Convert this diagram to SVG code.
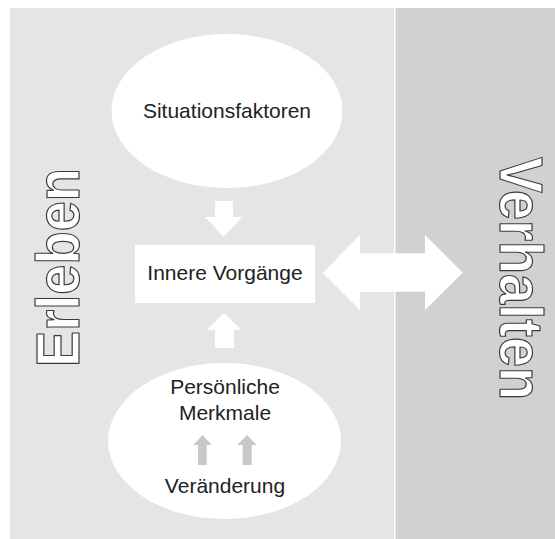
<svg xmlns="http://www.w3.org/2000/svg" width="555" height="539" viewBox="0 0 555 539">
<style>
.lbl{font-family:"Liberation Sans",Arial,sans-serif;font-size:21px;fill:#222;text-anchor:middle}
.big{font-family:"Liberation Sans",Arial,sans-serif;font-size:61px;font-weight:bold;fill:#fff;stroke:#3a3a3a;stroke-width:1.2;stroke-linejoin:round}
.node{fill:#fff}
.wa{fill:#fff}
.ga{fill:#c8c8c8}
</style>
<rect x="0" y="0" width="555" height="539" fill="#fff"/>
<g id="panel-erleben">
<rect x="10" y="8" width="384" height="531" fill="#e4e5e7"/>
<text class="big" transform="translate(79,367) rotate(-90)" textLength="199" lengthAdjust="spacingAndGlyphs">Erleben</text>
</g>
<g id="panel-verhalten">
<rect x="395.5" y="8" width="159.5" height="531" fill="#d0d1d3"/>
<text class="big" transform="translate(499.5,157) rotate(90)" textLength="243" lengthAdjust="spacingAndGlyphs">Verhalten</text>
</g>
<g id="situationsfaktoren">
<ellipse class="node" cx="227" cy="111" rx="115.5" ry="77"/>
<text class="lbl" x="227" y="118">Situationsfaktoren</text>
</g>
<g id="innere-vorgaenge">
<rect class="node" x="135" y="245" width="180" height="58"/>
<text class="lbl" x="225" y="280">Innere Vorgänge</text>
</g>
<g id="persoenliche-merkmale">
<ellipse class="node" cx="224.5" cy="441" rx="116.5" ry="78"/>
<text class="lbl" x="225" y="394">Persönliche</text>
<text class="lbl" x="225" y="420">Merkmale</text>
<text class="lbl" x="225" y="493">Veränderung</text>
</g>
<g id="connectors">
<polygon class="wa" points="215,201 233,201 233,217 242,217 223.5,237 205,217 215,217"/>
<polygon class="wa" points="224,312.7 241.7,330 234,330 234,348 215,348 215,330 206.7,330"/>
<polygon class="wa" points="322.7,272.7 360,235 360,253.3 425,253.3 425,235 462.7,272.7 425,310 425,291.7 360,291.7 360,310"/>
<polygon class="ga" points="202.5,435 211.7,445 206.7,445 206.7,465 198,465 198,445 193.3,445"/>
<polygon class="ga" points="247,435 256.7,445 251.7,445 251.7,465 242.7,465 242.7,445 237.3,445"/>
</g>
</svg>
